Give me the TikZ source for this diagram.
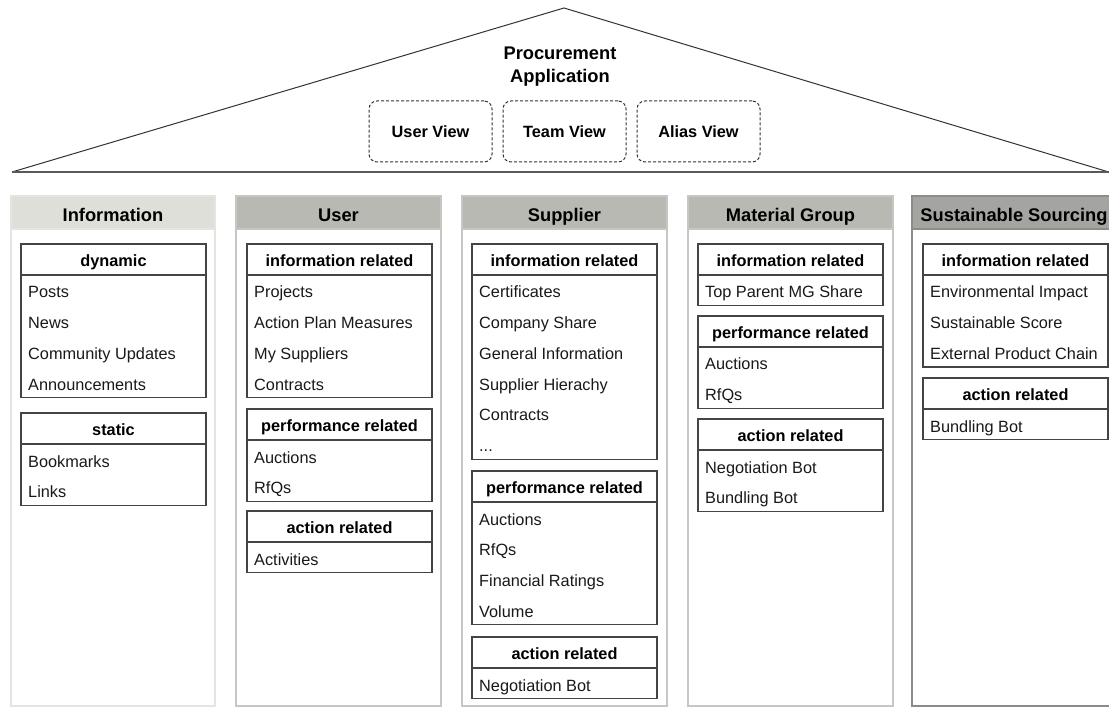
\documentclass[tikz,border=0pt]{standalone}
\usepackage{fontspec}
\setmainfont{Liberation Sans}
\definecolor{infohead}{HTML}{DFDFDA}
\definecolor{infoframe}{HTML}{E4E4E0}
\definecolor{midhead}{HTML}{B9B9B4}
\definecolor{midframe}{HTML}{C6C6C2}
\definecolor{darkhead}{HTML}{A4A4A0}
\definecolor{darkframe}{HTML}{8C8C88}
\definecolor{boxline}{HTML}{444444}
\newcommand{\mydots}{{.}{.}{.}}
\newcommand{\mybox}[6]{%
  \draw[subframe] (#2,#3) rectangle ({#2+185},{#3+31+30.7*#5});
  \draw[subframe] (#2,{#3+31}) -- ({#2+185},{#3+31});
  \node[subhead] (#1) at ({#2+92.5},{#3+22.5}) {#4};
  \foreach \t [count=\i] in {#6} {\node[item] (#1-\i) at ({#2+7},{#3+54+30.7*(\i-1)}) {\t};}
}
\newcommand{\mycol}[6]{% name, xleft, xright, headfill, frame, title
  \fill[#4] (#2,196) rectangle (#3,229);
  \draw[draw=#5, line width=2pt] (#2,229) -- (#3,229);
  \draw[draw=#5, line width=2pt] (#2,196) rectangle (#3,706);
  \node[colhead] (#1) at ({(#2+#3)/2},222) {#6};
}
\begin{document}
\begin{tikzpicture}[x=1pt,y=-1pt,
  roof/.style={draw=black!80, line width=1pt},
  viewbox/.style={draw=black!80, dash pattern=on 3pt off 2pt, rounded corners=8pt, line width=1pt,
    minimum width=123pt, minimum height=61pt, font=\fontsize{16.3}{19}\selectfont\bfseries},
  colhead/.style={font=\fontsize{18.3}{21}\selectfont\bfseries, anchor=base, inner sep=0pt},
  subframe/.style={draw=boxline, line width=1.3pt},
  subhead/.style={font=\fontsize{16.3}{19}\selectfont\bfseries, anchor=base, inner sep=0pt},
  item/.style={font=\fontsize{16.3}{19}\selectfont, anchor=base west, inner sep=0pt, text=black!90}]
\useasboundingbox (0,0) rectangle (1109,719);
\fill[white] (0,0) rectangle (1109,719);
% roof
\draw[roof] (12,172) -- (564,8) -- (1112,173);
\draw[draw=black!65, line width=1.6pt] (12,172) -- (1109,172);
\node[font=\fontsize{18.3}{23}\selectfont\bfseries, align=center, inner sep=0pt] (title) at (560,67) {Procurement\\Application};
\node[viewbox] (uv) at (430.5,131.5) {User View};
\node[viewbox] (tv) at (564.5,131.5) {Team View};
\node[viewbox] (av) at (698.5,131.5) {Alias View};
% columns
\mycol{cInfo}{11}{215}{infohead}{infoframe}{Information}
\mycol{cUser}{236}{441}{midhead}{midframe}{User}
\mycol{cSup}{462}{667}{midhead}{midframe}{Supplier}
\mycol{cMat}{688}{893}{midhead}{midframe}{Material Group}
\mycol{cSus}{912}{1116}{darkhead}{darkframe}{Sustainable Sourcing}
% Information
\mybox{infDyn}{21}{244}{dynamic}{4}{Posts,News,Community Updates,Announcements}
\mybox{infSta}{21}{413}{static}{2}{Bookmarks,Links}
% User
\mybox{usInfo}{247}{244}{information related}{4}{Projects,Action Plan Measures,My Suppliers,Contracts}
\mybox{usPerf}{247}{409}{performance related}{2}{Auctions,RfQs}
\mybox{usAct}{247}{511}{action related}{1}{Activities}
% Supplier
\mybox{suInfo}{472}{244}{information related}{6}{Certificates,Company Share,General Information,Supplier Hierachy,Contracts,\mydots}
\mybox{suPerf}{472}{471}{performance related}{4}{Auctions,RfQs,Financial Ratings,Volume}
\mybox{suAct}{472}{637}{action related}{1}{Negotiation Bot}
% Material Group
\mybox{mgInfo}{698}{244}{information related}{1}{Top Parent MG Share}
\mybox{mgPerf}{698}{316}{performance related}{2}{Auctions,RfQs}
\mybox{mgAct}{698}{419}{action related}{2}{Negotiation Bot,Bundling Bot}
% Sustainable Sourcing
\mybox{ssInfo}{923}{244}{information related}{3}{Environmental Impact,Sustainable Score,External Product Chain}
\mybox{ssAct}{923}{378}{action related}{1}{Bundling Bot}
\end{tikzpicture}
\end{document}
